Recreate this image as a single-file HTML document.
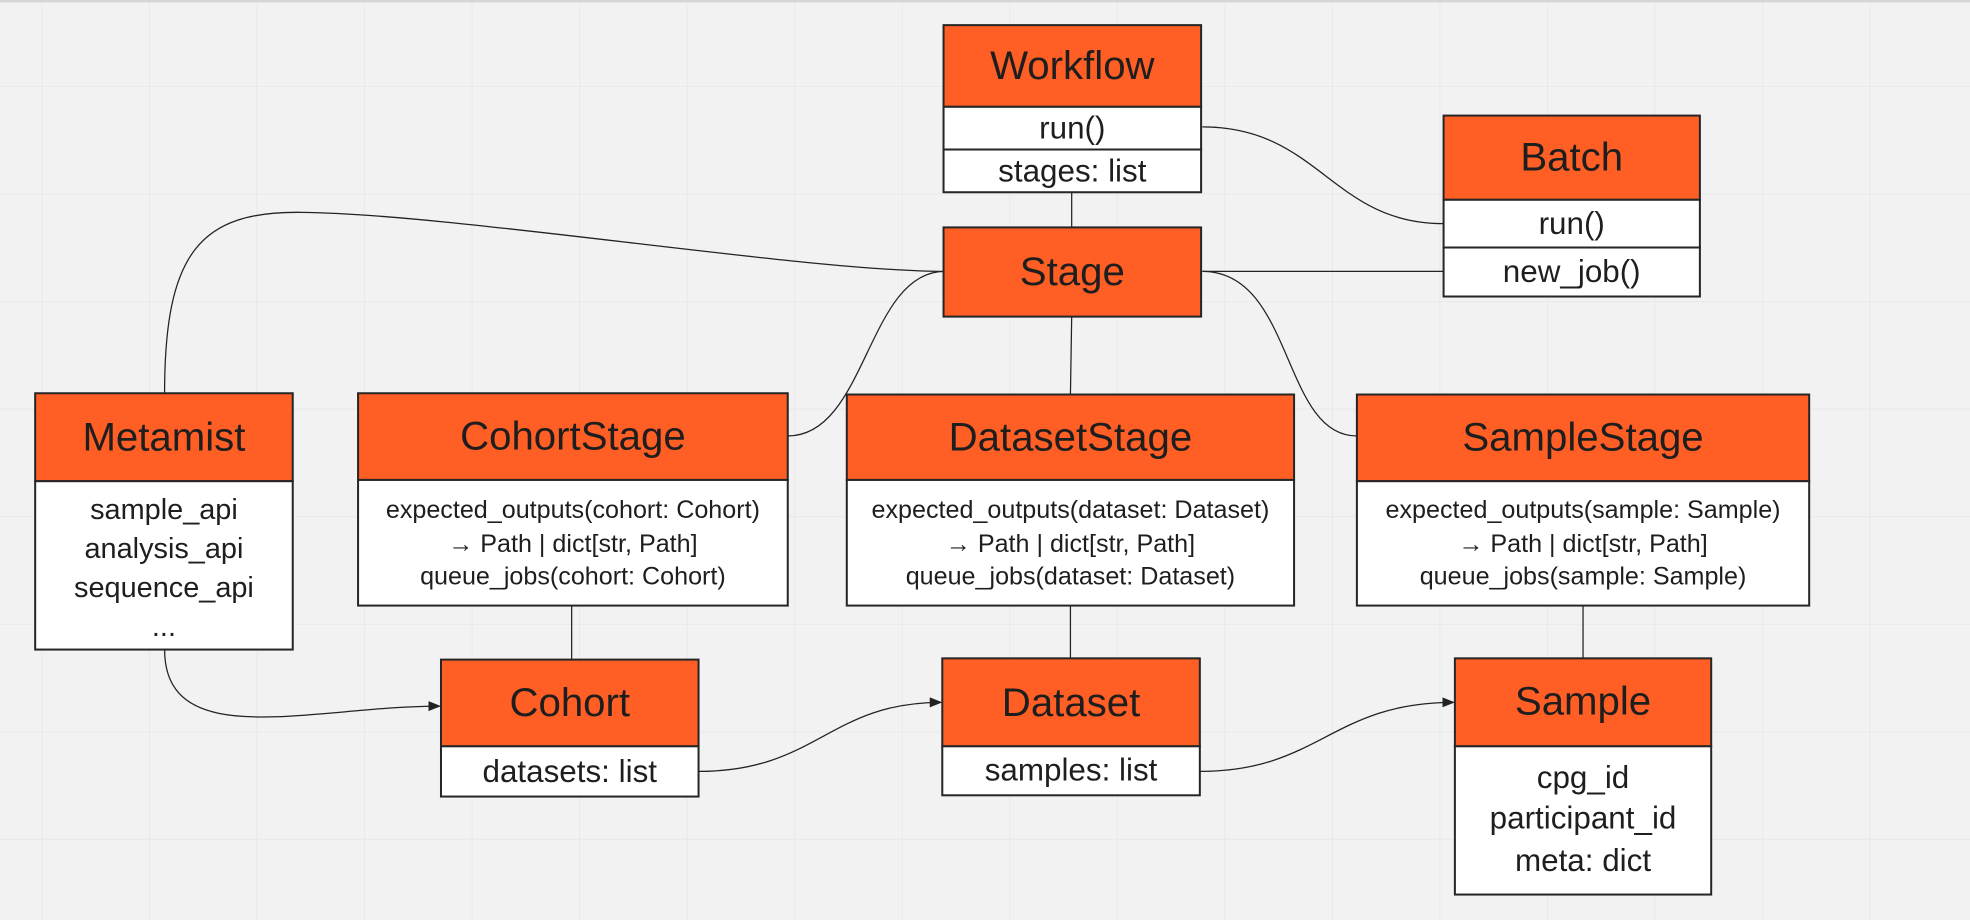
<!DOCTYPE html>
<html><head><meta charset="utf-8"><style>
html,body{margin:0;padding:0;background:#f2f2f2;}
svg{display:block;}
text{font-family:"Liberation Sans",sans-serif;fill:#1e1e1e;text-anchor:middle;dominant-baseline:central;}
.h{font-size:32px;}
.r{font-size:25px;}
.s{font-size:20px;}
.m{font-size:23px;}
.o{fill:#ff5e24;stroke:#262626;stroke-width:1.6;}
.w{fill:#fff;stroke:#262626;stroke-width:1.6;}
.c{fill:none;stroke:#222;stroke-width:1;}
</style></head><body>
<svg width="1970" height="920" viewBox="0 0 1568 732.25" xmlns="http://www.w3.org/2000/svg">
<defs>
<pattern id="g" x="33" y="68.5" width="85.6" height="85.6" patternUnits="userSpaceOnUse">
<path d="M0 0H85.6M0 0V85.6" stroke="#e6e6e6" stroke-width="1.2" fill="none"/>
</pattern>
<marker id="a" markerWidth="10" markerHeight="8" refX="9" refY="4" orient="auto" markerUnits="userSpaceOnUse">
<path d="M0,0 L10,4 L0,8 z" fill="#222"/>
</marker>
</defs>
<rect width="1568" height="733" fill="#f2f2f2"/>
<rect width="1568" height="733" fill="url(#g)"/>
<rect width="1568" height="2" fill="#d6d6d6"/>

<path class="c" d="M957,101 C1050,101 1060,178 1149,178"/>
<path class="c" d="M853,153 V181"/>
<path class="c" d="M957,216 H1149"/>
<path class="c" d="M131,313 C131,200 160,168 240,169 C360,170 640,216 752,216"/>
<path class="c" d="M627,347 C690,347 690,216 752,216"/>
<path class="c" d="M853,252 L852,314"/>
<path class="c" d="M957,216 C1030,216 1020,347 1080,347"/>
<path class="c" d="M455,482 V525"/>
<path class="c" d="M852,482 V524"/>
<path class="c" d="M1260,482 V524"/>
<path class="c" d="M131,517 C131,600 250,562 350,562" marker-end="url(#a)"/>
<path class="c" d="M556,614 C650,614 660,559 749,559" marker-end="url(#a)"/>
<path class="c" d="M955,614 C1050,614 1060,559 1157,559" marker-end="url(#a)"/>

<rect class="o" x="751" y="20" width="205" height="65"/>
<rect class="w" x="751" y="85" width="205" height="34"/>
<rect class="w" x="751" y="119" width="205" height="34"/>
<text class="h" x="853.5" y="52">Workflow</text>
<text class="r" x="853.5" y="102">run()</text>
<text class="r" x="853.5" y="136">stages: list</text>

<rect class="o" x="1149" y="92" width="204" height="67"/>
<rect class="w" x="1149" y="159" width="204" height="38"/>
<rect class="w" x="1149" y="197" width="204" height="39"/>
<text class="h" x="1251" y="125">Batch</text>
<text class="r" x="1251" y="178">run()</text>
<text class="r" x="1251" y="216">new_job()</text>

<rect class="o" x="751" y="181" width="205" height="71"/>
<text class="h" x="853.5" y="216">Stage</text>

<rect class="o" x="28" y="313" width="205" height="70"/>
<rect class="w" x="28" y="383" width="205" height="134"/>
<text class="h" x="130.5" y="348">Metamist</text>
<text class="m" x="130.5" y="406">sample_api</text>
<text class="m" x="130.5" y="437">analysis_api</text>
<text class="m" x="130.5" y="468">sequence_api</text>
<text class="m" x="130.5" y="499">...</text>

<rect class="o" x="285" y="313" width="342" height="69"/>
<rect class="w" x="285" y="382" width="342" height="100"/>
<text class="h" x="456" y="347">CohortStage</text>
<text class="s" x="456" y="406">expected_outputs(cohort: Cohort)</text>
<text class="s" x="456" y="433">→ Path | dict[str, Path]</text>
<text class="s" x="456" y="459">queue_jobs(cohort: Cohort)</text>

<rect class="o" x="674" y="314" width="356" height="68"/>
<rect class="w" x="674" y="382" width="356" height="100"/>
<text class="h" x="852" y="348">DatasetStage</text>
<text class="s" x="852" y="406">expected_outputs(dataset: Dataset)</text>
<text class="s" x="852" y="433">→ Path | dict[str, Path]</text>
<text class="s" x="852" y="459">queue_jobs(dataset: Dataset)</text>

<rect class="o" x="1080" y="314" width="360" height="69"/>
<rect class="w" x="1080" y="383" width="360" height="99"/>
<text class="h" x="1260" y="348">SampleStage</text>
<text class="s" x="1260" y="406">expected_outputs(sample: Sample)</text>
<text class="s" x="1260" y="433">→ Path | dict[str, Path]</text>
<text class="s" x="1260" y="459">queue_jobs(sample: Sample)</text>

<rect class="o" x="351" y="525" width="205" height="69"/>
<rect class="w" x="351" y="594" width="205" height="40"/>
<text class="h" x="453.5" y="559">Cohort</text>
<text class="r" x="453.5" y="614">datasets: list</text>

<rect class="o" x="750" y="524" width="205" height="70"/>
<rect class="w" x="750" y="594" width="205" height="39"/>
<text class="h" x="852.5" y="559">Dataset</text>
<text class="r" x="852.5" y="613">samples: list</text>

<rect class="o" x="1158" y="524" width="204" height="70"/>
<rect class="w" x="1158" y="594" width="204" height="118"/>
<text class="h" x="1260" y="558">Sample</text>
<text class="r" x="1260" y="619">cpg_id</text>
<text class="r" x="1260" y="651">participant_id</text>
<text class="r" x="1260" y="685">meta: dict</text>
</svg>
</body></html>
